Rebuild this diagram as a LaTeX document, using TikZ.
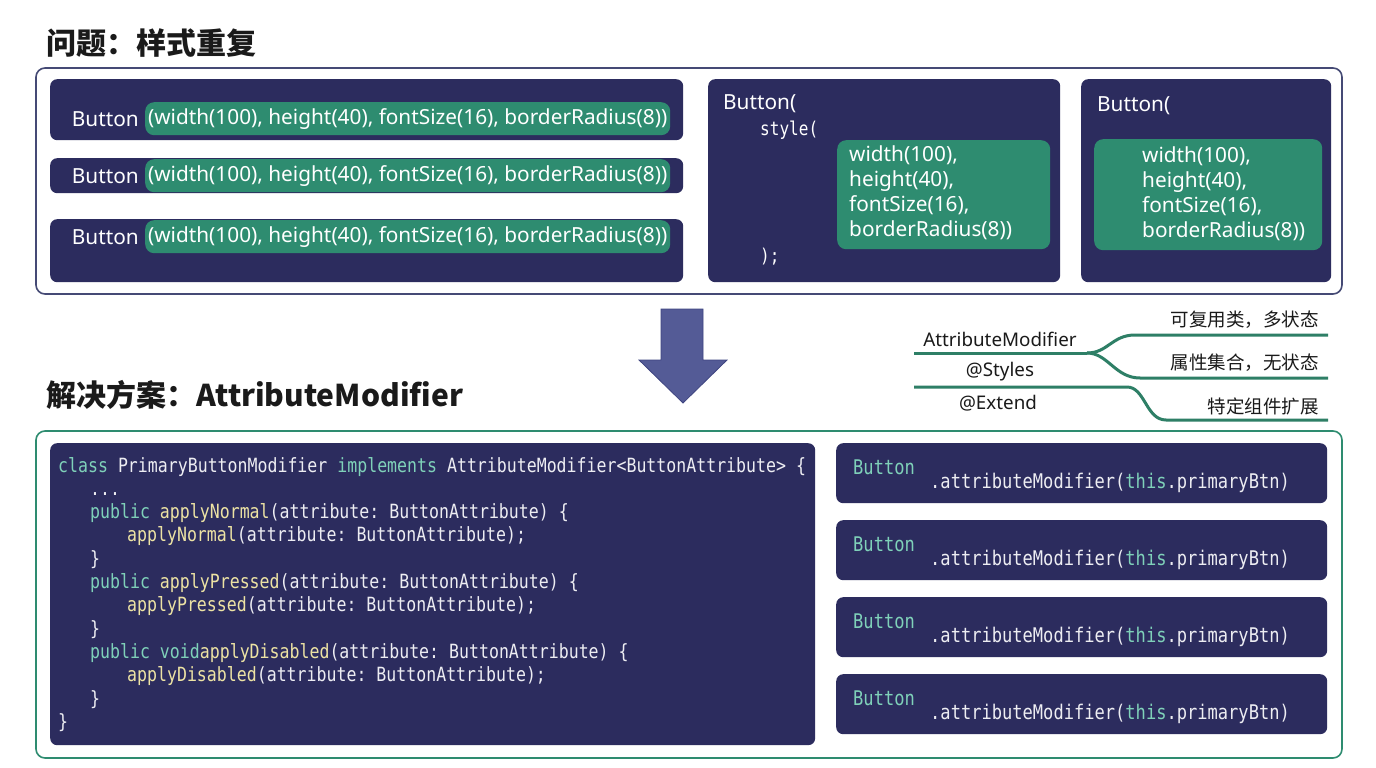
\documentclass[tikz,border=0pt]{standalone}
\usepackage{fontspec}
\setmainfont{Noto Sans}
\newfontfamily\cjk{Noto Sans CJK SC}
\newfontfamily\mono[FakeStretch=0.845]{DejaVu Sans Mono}
\usetikzlibrary{positioning}
\definecolor{codebg}{HTML}{2C2C5E}
\definecolor{mgreen}{HTML}{2E8C70}
\definecolor{slate}{HTML}{454A75}
\definecolor{linegreen}{HTML}{2E7F66}
\definecolor{arrowfill}{HTML}{545B96}
\definecolor{arrowedge}{HTML}{3E4480}
\definecolor{kwteal}{HTML}{7FD1B9}
\definecolor{fnyellow}{HTML}{EDE3A4}
\definecolor{codetext}{HTML}{EDEDF2}
\definecolor{ink}{HTML}{1A1A1A}
\newcommand{\kw}[1]{\textcolor{kwteal}{#1}}
\newcommand{\fn}[1]{\textcolor{fnyellow}{#1}}
\tikzset{
  panel/.style={draw=#1, line width=1.6pt, rounded corners=9pt},
  darkbox/.style={fill=codebg, rounded corners=7pt, anchor=north west, inner sep=0pt},
  hlbox/.style={fill=mgreen, rounded corners=9pt, anchor=north west, inner sep=0pt,
                text=white, font=\fontsize{20.8}{25}\selectfont},
  txt/.style={text=white, inner sep=0pt, align=left, anchor=west,
              font=\fontsize{20.8}{25}\selectfont},
  codeln/.style={anchor=west, inner sep=0pt, text=codetext, text height=14pt, text depth=4pt,
                 font=\mono\fontsize{19.6}{23}\selectfont\frenchspacing},
  callln/.style={codeln, font=\mono\fontsize{20.2}{23}\selectfont\frenchspacing},
  heading/.style={anchor=west, inner sep=0pt, text=ink, font=\cjk\bfseries\fontsize{30}{32}\selectfont},
  lbl/.style={inner sep=0pt, text=ink, font=\fontsize{18.8}{20}\selectfont},
  note/.style={inner sep=0pt, text=ink, anchor=east, font=\cjk\fontsize{18.5}{20}\selectfont},
  branch/.style={draw=linegreen, line width=3pt}
}
\begin{document}
\begin{tikzpicture}[x=1pt, y=-1pt]
  \useasboundingbox (0,0) rectangle (1376,768);
  \fill[white] (0,0) rectangle (1376,768);

  % problem: repeated styles
  \node[heading] (probTitle) at (46,43) {问题：样式重复};
  \draw[panel=slate] (36,68) rectangle (1342,294);

  \node[darkbox, minimum width=633pt, minimum height=61pt] (bar1) at (50,79) {};
  \node[hlbox, minimum width=525pt, minimum height=33pt] (hl1) at (145,102)
    {(width(100), height(40), fontSize(16), borderRadius(8))};
  \node[txt, left=6pt of hl1] (btn1) {Button};
  \node[darkbox, minimum width=633pt, minimum height=35pt] (bar2) at (50,158) {};
  \node[hlbox, minimum width=525pt, minimum height=33pt] (hl2) at (145,159)
    {(width(100), height(40), fontSize(16), borderRadius(8))};
  \node[txt, left=6pt of hl2] (btn2) {Button};
  \node[darkbox, minimum width=633pt, minimum height=63pt] (bar3) at (50,219) {};
  \node[hlbox, minimum width=525pt, minimum height=33pt] (hl3) at (145,220)
    {(width(100), height(40), fontSize(16), borderRadius(8))};
  \node[txt, left=6pt of hl3] (btn3) {Button};

  \node[darkbox, minimum width=352pt, minimum height=203pt] (cardA) at (708,79) {};
  \node[txt] (btnA) at (723,104) {Button(};
  \node[txt, font=\mono\fontsize{19}{23}\selectfont] (styleA) at (760,130) {style(};
  \node[hlbox, minimum width=213pt, minimum height=109pt] (hlA) at (837,140) {};
  \node[txt] (propsA) at (849,193) {width(100),\\height(40),\\fontSize(16),\\borderRadius(8))};
  \node[txt, font=\mono\fontsize{19}{23}\selectfont] (endA) at (760,257) {);};

  \node[darkbox, minimum width=250pt, minimum height=203pt] (cardB) at (1081,79) {};
  \node[txt] (btnB) at (1097,106) {Button(};
  \node[hlbox, minimum width=228pt, minimum height=111pt] (hlB) at (1094,139) {};
  \node[txt] (propsB) at (1142,194) {width(100),\\height(40),\\fontSize(16),\\borderRadius(8))};

  \filldraw[fill=arrowfill, draw=arrowedge, line width=0.8pt]
    (661,309) -- (703,309) -- (703,360) -- (727,360) -- (683,403) -- (639,360) -- (661,360) -- cycle;

  % solution: AttributeModifier
  \node[heading] (solTitle) at (46,395) {解决方案：AttributeModifier};

  \node[lbl] (amText) at (1000,339) {AttributeModifier};
  \node[lbl] (stText) at (1000,372) {@Styles};
  \node[lbl] (exText) at (998,403) {@Extend};
  \node[note] (noteAm) at (1319,320) {可复用类，多状态};
  \node[note] (noteSt) at (1319,363) {属性集合，无状态};
  \node[note] (noteEx) at (1319,406) {特定组件扩展};
  \coordinate (amStart) at (914,353);
  \coordinate (fork) at (1087,353);
  \coordinate (stStart) at (914,387);
  \draw[branch] (amStart) -- (fork);
  \draw[branch] (fork) .. controls (1108,353) and (1112,335) .. (1135,335) -- (1328,335);
  \draw[branch] (fork) .. controls (1108,353) and (1115,378) .. (1140,378) -- (1328,378);
  \draw[branch] (stStart) -- (1127,387) .. controls (1145,387) and (1146,420) .. (1166,420) -- (1328,420);

  \draw[panel=mgreen] (36,431) rectangle (1342,758);
  \node[darkbox, minimum width=765pt, minimum height=302pt] (codebox) at (50,443) {};
  \foreach \x/\ln [count=\i from 0] in {
    58/{\kw{class} PrimaryButtonModifier \kw{implements} AttributeModifier<ButtonAttribute> \{},
    90/{...},
    90/{\kw{public} \fn{applyNormal}(attribute: ButtonAttribute) \{},
    127/{\fn{applyNormal}(attribute: ButtonAttribute);},
    90/{\}},
    90/{\kw{public} \fn{applyPressed}(attribute: ButtonAttribute) \{},
    127/{\fn{applyPressed}(attribute: ButtonAttribute);},
    90/{\}},
    90/{\kw{public} \kw{void}\fn{applyDisabled}(attribute: ButtonAttribute) \{},
    127/{\fn{applyDisabled}(attribute: ButtonAttribute);},
    90/{\}},
    58/{\}}}
    \node[codeln] (code\i) at (\x,{467+23.3*\i}) {\ln};

  \foreach \y [count=\i] in {443,520,597,674} {
    \node[darkbox, minimum width=491pt, minimum height=60pt] (call\i) at (836,\y) {};
    \node[callln, text=kwteal] (callBtn\i) at (853,{\y+26}) {Button};
    \node[callln] (callMod\i) at (930,{\y+40}) {.attributeModifier(\kw{this}.primaryBtn)};
  }
\end{tikzpicture}
\end{document}
